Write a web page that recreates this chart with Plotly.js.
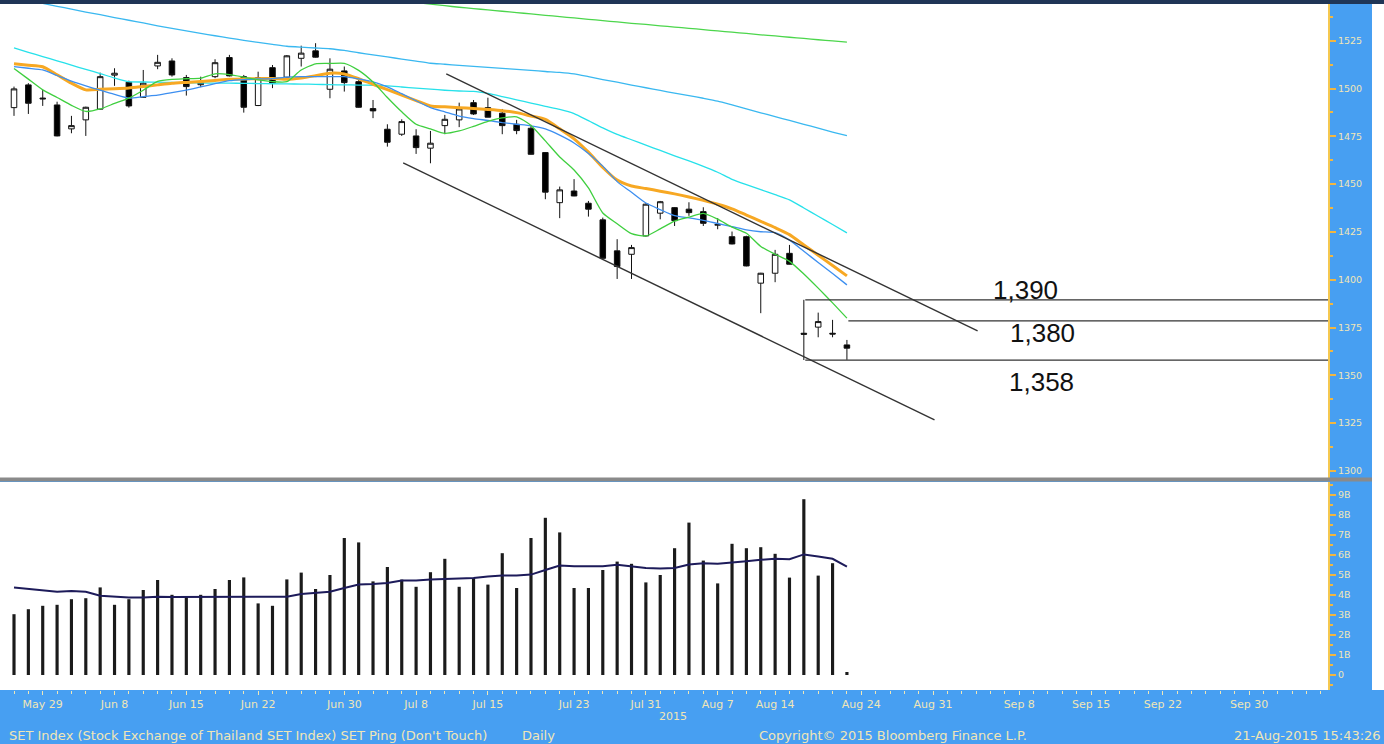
<!DOCTYPE html>
<html><head><meta charset="utf-8">
<script src="https://cdn.plot.ly/plotly-3.0.1.min.js"></script>
<style>html,body{margin:0;padding:0;background:#fff}#chart{width:1384px;height:744px}</style>
</head><body><div id="chart"></div>
<script>
// ---- DATA ----
// trading-day index 0 = 27 May 2015 ... 58 = 21 Aug 2015
const openP  = [1490.0,1501.9,1495.0,1491.4,1478.9,1483.6,1489.2,1507.0,1503.3,1495.4,1511.8,1514.4,1505.7,1502.0,1506.2,1516.2,1506.2,1491.1,1510.9,1505.9,1515.8,1519.7,1499.6,1509.2,1503.6,1489.5,1478.7,1476.1,1475.2,1468.8,1480.6,1483.6,1492.6,1490.0,1487.1,1481.3,1479.2,1466.5,1440.3,1446.4,1440.0,1431.3,1415.1,1413.3,1422.9,1434.8,1437.7,1436.9,1435.6,1428.5,1422.5,1422.5,1398.2,1403.4,1413.8,1372.0,1375.2,1372.0,1365.9];
const highP  = [1501.0,1502.8,1499.3,1493.1,1485.7,1490.5,1508.3,1510.6,1504.1,1509.7,1517.6,1515.8,1507.1,1506.2,1515.3,1517.6,1507.1,1508.8,1512.3,1517.5,1522.4,1523.7,1515.8,1511.5,1504.5,1494.0,1481.3,1483.9,1478.7,1477.8,1486.2,1492.6,1494.0,1495.2,1489.3,1483.6,1481.0,1466.7,1448.7,1452.6,1441.2,1432.5,1421.2,1418.2,1440.0,1441.2,1438.0,1440.5,1437.9,1432.2,1425.2,1423.0,1403.6,1415.6,1418.2,1389.5,1382.8,1379.0,1368.5];
const lowP   = [1485.7,1486.7,1490.9,1475.0,1476.6,1475.2,1489.0,1501.4,1490.0,1495.2,1510.1,1506.2,1496.3,1500.7,1505.4,1506.3,1487.4,1490.8,1500.2,1505.5,1511.5,1516.2,1494.9,1498.4,1490.0,1484.5,1469.6,1475.2,1465.8,1460.9,1476.1,1479.8,1486.2,1485.0,1476.1,1476.1,1465.5,1442.1,1432.2,1443.7,1433.0,1411.0,1400.4,1400.4,1422.6,1431.6,1428.1,1433.4,1428.1,1426.4,1418.5,1407.0,1382.5,1398.7,1408.0,1358.0,1369.9,1369.9,1358.1];
const closeP = [1499.8,1492.3,1494.6,1475.2,1480.6,1490.2,1506.2,1508.0,1490.9,1502.8,1513.7,1507.1,1501.0,1503.0,1513.5,1506.6,1490.2,1505.7,1502.8,1517.1,1518.5,1516.4,1510.1,1503.1,1490.2,1488.3,1471.9,1482.7,1469.1,1471.4,1483.9,1489.3,1486.7,1485.0,1480.6,1478.0,1465.6,1445.8,1447.0,1443.8,1436.9,1411.2,1406.9,1416.8,1439.5,1440.8,1430.9,1435.1,1429.5,1428.9,1418.7,1407.2,1403.4,1413.3,1408.1,1371.5,1378.1,1371.6,1364.2];

// moving averages
const maGreen  = [1510.5,1504.9,1499.3,1495.3,1491.2,1488.0,1489.3,1492.2,1495.0,1499.1,1503.7,1504.8,1505.1,1505.4,1507.7,1507.3,1506.0,1504.5,1503.6,1503.6,1509.7,1512.9,1513.1,1513.2,1509.5,1503.4,1495.3,1487.8,1481.3,1478.9,1476.5,1477.8,1480.2,1482.8,1484.6,1485.2,1480.7,1472.6,1464.2,1457.4,1448.0,1434.9,1429.3,1424.1,1422.9,1426.6,1430.6,1432.7,1434.7,1431.7,1427.5,1424.3,1417.4,1413.3,1409.6,1403.0,1395.6,1387.9,1379.9];
const maBlue   = [1511.4,1510.6,1509.7,1506.8,1503.9,1501.4,1499.1,1496.9,1495.0,1495.8,1496.5,1497.8,1499.2,1500.8,1502.5,1504.1,1504.7,1505.0,1505.2,1506.0,1506.2,1506.2,1506.2,1506.2,1505.0,1503.5,1500.9,1497.3,1493.6,1490.0,1487.8,1485.6,1484.3,1483.3,1482.2,1481.3,1480.5,1478.9,1475.6,1471.5,1466.0,1459.4,1451.3,1445.7,1440.1,1436.7,1433.5,1432.3,1431.0,1429.4,1427.8,1426.1,1425.1,1424.6,1420.7,1414.9,1409.0,1403.2,1397.3];
const maOrange = [1512.9,1512.2,1511.4,1507.2,1502.8,1499.3,1499.6,1499.9,1500.3,1501.1,1501.9,1502.7,1503.2,1503.7,1504.2,1504.8,1505.0,1505.1,1505.3,1504.8,1505.5,1506.7,1508.0,1507.6,1505.1,1502.2,1499.4,1496.5,1493.7,1490.9,1490.4,1490.0,1489.5,1489.0,1488.4,1487.4,1485.6,1483.8,1478.9,1473.7,1466.7,1458.7,1452.1,1449.0,1447.7,1446.3,1444.9,1443.3,1441.5,1439.5,1437.1,1433.8,1430.5,1427.2,1423.6,1418.2,1412.8,1407.4,1402.0];
const maCyan   = [1521.2,1518.9,1516.7,1514.5,1512.2,1510.0,1507.8,1505.5,1503.6,1503.4,1503.3,1503.2,1503.0,1502.9,1502.8,1502.8,1502.7,1502.6,1502.5,1502.4,1502.3,1502.2,1502.0,1501.9,1501.8,1501.7,1501.4,1500.8,1500.2,1499.7,1499.1,1498.7,1498.5,1497.4,1495.8,1494.1,1492.4,1490.7,1489.1,1486.9,1483.2,1479.4,1476.0,1473.2,1470.4,1467.6,1464.8,1462.1,1459.3,1456.2,1452.5,1449.7,1447.1,1444.5,1441.8,1437.5,1433.2,1428.9,1424.5];
const maSky    = [1547.6,1546.0,1544.5,1543.0,1541.5,1540.0,1538.6,1537.1,1535.7,1534.3,1532.8,1531.4,1530.1,1528.8,1527.6,1526.4,1525.2,1524.1,1523.1,1522.1,1521.6,1521.2,1520.8,1519.9,1518.7,1517.6,1516.5,1515.4,1514.3,1513.2,1512.7,1512.1,1511.6,1511.1,1510.5,1510.0,1509.5,1508.9,1508.4,1507.6,1506.2,1504.7,1503.3,1501.8,1500.4,1499.0,1497.6,1496.3,1494.9,1493.4,1491.4,1489.3,1487.3,1485.3,1483.3,1481.3,1479.3,1477.2,1475.3];
const maLongStart = 28;   // long average only visible from this day on
const maLong   = [1545.0,1544.1,1543.3,1542.5,1541.8,1541.1,1540.4,1539.7,1539.0,1538.3,1537.6,1536.9,1536.2,1535.5,1534.8,1534.1,1533.5,1532.8,1532.1,1531.5,1530.8,1530.1,1529.5,1528.8,1528.1,1527.5,1526.8,1526.2,1525.5,1524.9,1524.3];

// volume (billions) and its moving average
const volume = [3.04,3.29,3.46,3.51,3.79,3.84,4.38,3.51,3.79,4.25,4.75,4.01,3.91,4.01,4.30,4.75,4.88,3.58,3.46,4.78,5.12,4.30,5.00,6.85,6.63,4.68,5.40,4.77,4.41,5.14,5.81,4.41,4.85,4.52,6.09,4.35,6.85,7.86,7.13,4.35,4.35,5.25,5.67,5.56,4.63,5.00,6.34,7.62,5.72,4.58,6.56,6.34,6.39,6.06,4.87,8.79,4.97,5.59,0.15];
const volMA  = [4.37,4.30,4.21,4.16,4.20,4.16,3.96,3.91,3.88,3.88,3.91,3.90,3.90,3.90,3.91,3.91,3.91,3.91,3.91,3.91,4.05,4.10,4.16,4.35,4.52,4.55,4.60,4.72,4.72,4.77,4.80,4.80,4.85,4.92,4.97,4.97,5.02,5.25,5.47,5.44,5.44,5.44,5.51,5.44,5.35,5.33,5.35,5.52,5.59,5.56,5.61,5.69,5.76,5.81,5.79,6.03,5.93,5.81,5.42];

// x axis (trading-day index of each labelled date)
const tickIdx    = [2,7,12,17,23,28,33,39,44,49,53,59,64,70,75,80,86];
const tickLabels = ['May 29','Jun 8','Jun 15','Jun 22','Jun 30','Jul 8','Jul 15','Jul 23','Jul 31','Aug 7','Aug 14','Aug 24','Aug 31','Sep 8','Sep 15','Sep 22','Sep 30'];
const priceTicks = [1300,1325,1350,1375,1400,1425,1450,1475,1500,1525];
const volTicks   = [0,1,2,3,4,5,6,7,8,9];
const volTickText= ['0','1B','2B','3B','4B','5B','6B','7B','8B','9B'];

// analyst drawings
const channelUpper = {d0:30.1, p0:1507.6, d1:67.1, p1:1373.2};
const channelLower = {d0:27.1, p0:1461.1, d1:64.1, p1:1326.7};
const levels = [{val:1389.5, from:55.1, label:'1,390'}, {val:1378.5, from:58.1, label:'1,380'}, {val:1358.0, from:55.1, label:'1,358'}];

const titleText = "SET Index (Stock Exchange of Thailand SET Index) SET Ping (Don't Touch)";
const freqText = 'Daily';
const copyText = 'Copyright\u00A9 2015 Bloomberg Finance L.P.';
const stampText = '21-Aug-2015 15:43:26';
const yearText = '2015';

// ---- CHART ----
const W = 1384, H = 744, ML = 0, MR = 56, MT = 4, MB = 54;
const PW = W - ML - MR, PH = H - MT - MB;
const px = x => (x - ML) / PW;
const py = y => (H - MB - y) / PH;

const idx = closeP.map((_, i) => i);
const longIdx = maLong.map((_, i) => i + maLongStart);
const XMAX = 91.5;

const BLUE = '#479ff2', BEIGE = '#f0e6b6', TICKC = '#f2b640';
const FONT = 'DejaVu Sans, Verdana, sans-serif';

function maTrace(y, color, width, x) {
  return {type:'scatter', mode:'lines', x: x || idx, y: y, xaxis:'x', yaxis:'y',
          line:{color:color, width:width, shape:'spline', smoothing:0.6}, hoverinfo:'skip', showlegend:false};
}

const traces = [
  maTrace(maLong, '#4cd64c', 1.3, longIdx),
  maTrace(maSky, '#3ab8f0', 1.3),
  maTrace(maCyan, '#27e1ea', 1.3),
  maTrace(maOrange, '#f7a823', 3),
  maTrace(maBlue, '#3d8ff0', 1.3),
  maTrace(maGreen, '#3fcf3f', 1.3),
  {type:'candlestick', x: idx, open: openP, high: highP, low: lowP, close: closeP, xaxis:'x', yaxis:'y',
   increasing:{line:{color:'#111', width:1}, fillcolor:'#ffffff'},
   decreasing:{line:{color:'#111', width:1}, fillcolor:'#000000'},
   whiskerwidth:0, hoverinfo:'skip', showlegend:false},
  {type:'bar', x: idx, y: volume, xaxis:'x', yaxis:'y2', width:0.22,
   marker:{color:'#1b1b1b', line:{width:0}}, hoverinfo:'skip', showlegend:false},
  {type:'scatter', mode:'lines', x: idx, y: volMA, xaxis:'x', yaxis:'y2',
   line:{color:'#1d1b5a', width:2}, hoverinfo:'skip', showlegend:false}
];

const shapes = [
  {type:'rect', xref:'paper', yref:'paper', x0:px(0), x1:px(W), y0:py(4), y1:py(0), fillcolor:'#1f3556', line:{width:0}, layer:'above'},
  {type:'rect', xref:'paper', yref:'paper', x0:px(1372), x1:px(W), y0:py(690), y1:py(4), fillcolor:'#ffffff', line:{width:0}, layer:'below'},
  {type:'rect', xref:'paper', yref:'paper', x0:px(0), x1:px(1372), y0:py(481.5), y1:py(477.5), fillcolor:'#8a8a8a', line:{width:0}, layer:'above'},
  {type:'line', xref:'x', yref:'y', x0:channelUpper.d0, y0:channelUpper.p0, x1:channelUpper.d1, y1:channelUpper.p1, line:{color:'#333', width:1.4}},
  {type:'line', xref:'x', yref:'y', x0:channelLower.d0, y0:channelLower.p0, x1:channelLower.d1, y1:channelLower.p1, line:{color:'#333', width:1.4}}
];
levels.forEach(l => shapes.push({type:'line', xref:'x', yref:'y', x0:l.from, x1:XMAX, y0:l.val, y1:l.val, line:{color:'#333', width:1.2}}));

const annotations = [];
const labelPos = [[1025, 290], [1042, 333], [1041, 382]];
levels.forEach((l, k) => annotations.push({xref:'paper', yref:'paper', x:px(labelPos[k][0]), y:py(labelPos[k][1]), text:l.label, showarrow:false,
  xanchor:'center', yanchor:'middle', font:{family:'Liberation Sans, Arial, sans-serif', size:26, color:'#111'}}));
const foot = {family: FONT, size: 13, color: BEIGE};
annotations.push({xref:'paper', yref:'paper', x:px(7), y:py(735), text:titleText, showarrow:false, xanchor:'left', yanchor:'middle', font:foot});
annotations.push({xref:'paper', yref:'paper', x:px(520), y:py(735), text:freqText, showarrow:false, xanchor:'left', yanchor:'middle', font:foot});
annotations.push({xref:'paper', yref:'paper', x:px(757), y:py(735), text:copyText, showarrow:false, xanchor:'left', yanchor:'middle', font:foot});
annotations.push({xref:'paper', yref:'paper', x:px(1383), y:py(735), text:stampText, showarrow:false, xanchor:'right', yanchor:'middle', font:foot});
annotations.push({xref:'paper', yref:'paper', x:px(673), y:py(716), text:yearText, showarrow:false, xanchor:'center', yanchor:'middle', font:{family:FONT, size:11, color:BEIGE}});

const yCommon = {side:'right', anchor:'x', ticks:'outside', ticklen:6, tickwidth:2, tickcolor:TICKC,
  showline:true, linecolor:'#f5c850', linewidth:2, showgrid:false, zeroline:false, fixedrange:true,
  tickfont:{family:FONT, size:9.5, color:BEIGE}};

const layout = {
  width:W, height:H, margin:{l:ML, r:MR, t:MT, b:MB, pad:0},
  paper_bgcolor:BLUE, plot_bgcolor:'#ffffff', showlegend:false, boxgap:0.45,
  xaxis:{domain:[0,1], anchor:'y2', range:[-0.975, XMAX], tickmode:'array', tickvals:tickIdx, ticktext:tickLabels,
    ticks:'outside', ticklen:4, tickcolor:BEIGE, showgrid:false, zeroline:false, showline:false, fixedrange:true,
    tickfont:{family:FONT, size:11, color:BEIGE}, rangeslider:{visible:false},
    minor:{tickmode:'linear', tick0:0, dtick:1, ticks:'outside', ticklen:3, tickcolor:BEIGE}},
  yaxis:Object.assign({}, yCommon, {domain:[py(478), 1], range:[1296.3, 1544.2], tickmode:'array', tickvals:priceTicks,
    minor:{tickmode:'linear', tick0:1287.5, dtick:25, ticks:'outside', ticklen:3, tickcolor:TICKC}}),
  yaxis2:Object.assign({}, yCommon, {domain:[0, py(482)], range:[-0.75, 9.65], tickmode:'array', tickvals:volTicks, ticktext:volTickText,
    minor:{tickmode:'linear', tick0:0.5, dtick:1, ticks:'outside', ticklen:3, tickcolor:TICKC}}),
  shapes:shapes, annotations:annotations
};

Plotly.newPlot('chart', traces, layout, {staticPlot:true, displayModeBar:false});
</script></body></html>
